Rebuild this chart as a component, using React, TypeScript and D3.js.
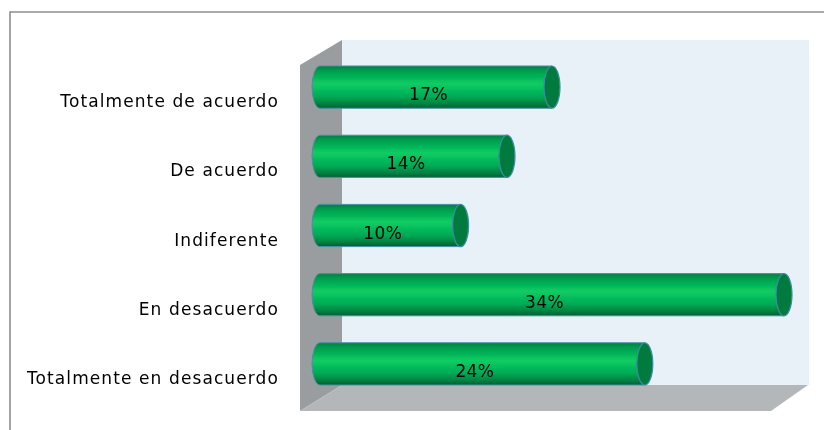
import React from "react";
import * as d3 from "d3";

const categories = ["Totalmente de acuerdo", "De acuerdo", "Indiferente", "En desacuerdo", "Totalmente en desacuerdo"];
const values = [0.17, 0.137, 0.103, 0.34, 0.238];

const W = 824, H = 430;
const x = d3.scaleLinear().domain([0, 0.34]).range([320, 784]);
const y = d3.scaleBand<string>().domain(categories).range([52.5, 398.5]).paddingInner(0.39).paddingOuter(0.195);
const pct = d3.format(".0%");
const poly = (p: [number, number][]) => (d3.line()(p) ?? "") + "Z";

export default function App() {
  const bh = y.bandwidth();
  const rx = 8;
  return (
    <svg width={W} height={H} style={{ position: "absolute", left: 0, top: 0 }}>
      <defs>
        <linearGradient id="bar" x1="0" y1="0" x2="0" y2="1">
          <stop offset="0" stopColor="#007f45" />
          <stop offset="0.1" stopColor="#019a4c" />
          <stop offset="0.42" stopColor="#09cd63" />
          <stop offset="0.72" stopColor="#03ab56" />
          <stop offset="0.9" stopColor="#018040" />
          <stop offset="1" stopColor="#005c36" />
        </linearGradient>
        <filter id="soft" x="-5%" y="-5%" width="110%" height="110%">
          <feGaussianBlur stdDeviation="0.5" />
        </filter>
      </defs>
      <rect x={0} y={0} width={W} height={H} fill="#fff" />
      <path d="M10 430V12H824" fill="none" stroke="#8e8e8e" strokeWidth={1.6} />
      <g filter="url(#soft)">
        <rect x={342} y={40} width={467} height={345} fill="#e9f1f8" />
        <path d={poly([[300, 65], [342, 40], [342, 385], [300, 411]])} fill="#9a9d9f" />
        <path d={poly([[300, 411], [342, 385], [808, 385], [771, 411]])} fill="#b3b7ba" />
        {categories.map((c, i) => {
          const t = y(c)!;
          const b = t + bh;
          const cy = t + bh / 2;
          const xe = x(values[i]);
          const x0 = x(0);
          const d = `M${xe} ${t}H${x0}A${rx} ${bh / 2} 0 0 0 ${x0} ${b}H${xe}Z`;
          return (
            <g key={c}>
              <path d={d} fill="url(#bar)" stroke="#4d8f9e" strokeWidth={1} />
              <ellipse cx={xe} cy={cy} rx={rx} ry={bh / 2} fill="#067a3e" stroke="#3f8aa2" strokeWidth={1.2} />
            </g>
          );
        })}
      </g>
      <g filter="url(#soft)" fontFamily="'DejaVu Sans'" fill="#000">
        {categories.map((c) => (
          <text key={c} x={279} y={y(c)! + bh / 2 + 20} textAnchor="end" fontSize={17} letterSpacing={1.1}>{c}</text>
        ))}
        {categories.map((c, i) => (
          <text key={c} x={(x(0) + x(values[i])) / 2 - 7.5} y={y(c)! + bh / 2 + 13} textAnchor="middle" fontSize={17} letterSpacing={0.4}>{pct(values[i])}</text>
        ))}
      </g>
    </svg>
  );
}
